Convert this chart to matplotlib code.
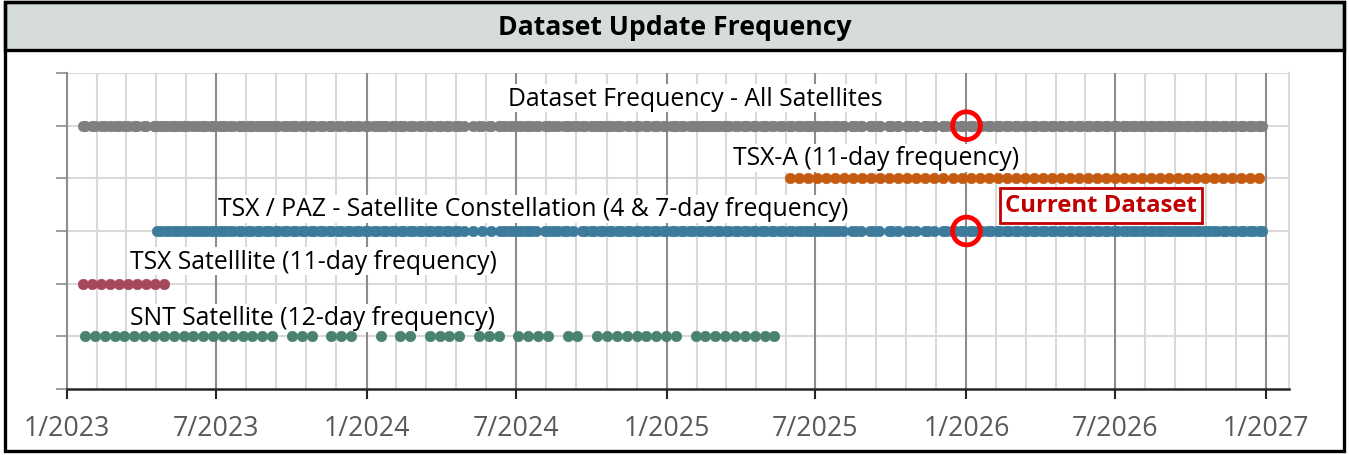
import numpy as np
import matplotlib
matplotlib.use("Agg")
from matplotlib import pyplot as plt
from matplotlib import dates as mdates
from matplotlib.patches import Rectangle

# acquisition dates, as day offsets from 1 Jan 2023
start = np.datetime64("2023-01-01")

snt_days = [
    22, 34, 46, 58, 70, 82, 94, 106, 118, 130, 142, 154, 166, 178, 190, 202, 214, 226,
    238, 250, 274, 286, 298, 322, 334, 346, 382, 406, 418, 442, 454, 466, 478, 502,
    514, 526, 550, 562, 574, 586, 610, 622, 646, 658, 670, 682, 694, 706, 718, 730,
    742, 766, 778, 790, 802, 814, 826, 838, 850, 862,
]

tsx_days = [19, 30, 41, 52, 63, 74, 85, 96, 107, 118]

tsx_paz_days = [
    110, 114, 121, 125, 132, 136, 143, 147, 154, 158, 165, 169, 176, 180, 187, 191,
    198, 202, 209, 213, 220, 224, 231, 235, 242, 246, 253, 257, 264, 268, 275, 279,
    286, 290, 297, 301, 308, 312, 319, 323, 330, 334, 341, 345, 352, 356, 363, 367,
    374, 378, 385, 389, 396, 400, 407, 411, 418, 422, 429, 433, 440, 444, 451, 455,
    462, 466, 473, 477, 484, 495, 506, 517, 528, 532, 539, 543, 550, 554, 561, 565,
    572, 583, 587, 594, 598, 605, 609, 616, 627, 631, 638, 642, 649, 653, 660, 664,
    671, 675, 682, 686, 693, 697, 704, 708, 715, 719, 726, 730, 737, 741, 748, 752,
    759, 763, 770, 774, 781, 785, 792, 796, 803, 807, 814, 818, 825, 829, 836, 840,
    847, 851, 858, 862, 869, 873, 880, 884, 891, 895, 902, 906, 913, 917, 924, 928,
    935, 939, 946, 957, 961, 968, 979, 983, 990, 1001, 1005, 1012, 1023, 1027, 1034,
    1045, 1049, 1056, 1067, 1071, 1078, 1082, 1089, 1093, 1100, 1104, 1111, 1115,
    1122, 1126, 1133, 1137, 1144, 1148, 1155, 1159, 1166, 1170, 1177, 1181, 1188, 1192,
    1199, 1203, 1210, 1214, 1221, 1225, 1232, 1236, 1243, 1247, 1254, 1258, 1265, 1269,
    1276, 1280, 1287, 1291, 1298, 1302, 1309, 1313, 1320, 1324, 1331, 1335, 1342, 1346,
    1353, 1357, 1364, 1368, 1375, 1379, 1386, 1390, 1397, 1401, 1408, 1412, 1419, 1423,
    1430, 1434, 1441, 1445, 1452, 1456,
]

tsx_a_days = [
    881, 892, 903, 914, 925, 936, 947, 958, 969, 980, 991, 1002, 1013, 1024, 1035,
    1046, 1057, 1068, 1079, 1090, 1101, 1112, 1123, 1134, 1145, 1156, 1167, 1178,
    1189, 1200, 1211, 1222, 1233, 1244, 1255, 1266, 1277, 1288, 1299, 1310, 1321,
    1332, 1343, 1354, 1365, 1376, 1387, 1398, 1409, 1420, 1431, 1442, 1453,
]

# the combined dataset is every date any satellite delivered
all_days = sorted(set(snt_days) | set(tsx_days) | set(tsx_paz_days) | set(tsx_a_days))

series_names = [
    "SNT Satellite (12-day frequency)",
    "TSX Satelllite (11-day frequency)",
    "TSX / PAZ - Satellite Constellation (4 & 7-day frequency)",
    "TSX-A (11-day frequency)",
    "Dataset Frequency - All Satellites",
]
series_days = [snt_days, tsx_days, tsx_paz_days, tsx_a_days, all_days]
series_rows = [1, 2, 3, 4, 5]
series_colors = ["#4A8270", "#A5485C", "#3C7B9C", "#C55A11", "#7F7F7F"]

# where each label sits (left edge date, row height)
label_pos = [
    ("2023-03-19", 1.35),
    ("2023-03-19", 2.43),
    ("2023-07-04", 3.42),
    ("2025-03-22", 4.39),
    ("2024-06-21", 5.52),
]

current_date = "2026-01-01"
current_rows = [5, 3]

tick_dates = ["2023-01-01", "2023-07-01", "2024-01-01", "2024-07-01", "2025-01-01",
              "2025-07-01", "2026-01-01", "2026-07-01", "2027-01-01"]
tick_labels = ["1/2023", "7/2023", "1/2024", "7/2024", "1/2025",
               "7/2025", "1/2026", "7/2026", "1/2027"]

plt.rcParams["font.family"] = ["Open Sans", "DejaVu Sans"]

W, H = 1349, 456
fig = plt.figure(figsize=(W / 100, H / 100), dpi=100)
fig.patch.set_facecolor("white")

# outer frame and grey title band
fig.add_artist(Rectangle((5 / W, 1 - 51 / H), 1339 / W, 48 / H, transform=fig.transFigure,
                         facecolor="#D6DCD9", edgecolor="black", linewidth=2.4, zorder=0))
fig.add_artist(Rectangle((5 / W, 1 - 452 / H), 1339 / W, 449 / H, transform=fig.transFigure,
                         facecolor="none", edgecolor="black", linewidth=2.4, zorder=5))
fig.text(0.5, 1 - 28 / H, "Dataset Update Frequency", ha="center", va="center",
         fontsize=19.2, fontweight="bold", color="black")

ax = fig.add_axes([67 / W, 66 / H, (1289 - 67) / W, (390 - 74) / H])

x_left = mdates.date2num(start)
x_right = mdates.date2num(start + np.timedelta64(1489, "D"))
ax.set_xlim(x_left, x_right)
ax.set_ylim(0, 6)

majors = [mdates.date2num(np.datetime64(d)) for d in tick_dates]
minors = []
for a, b in zip(majors[:-1], majors[1:]):
    for k in range(1, 5):
        minors.append(a + (b - a) * k / 5)

# grid: light minor verticals, darker half-year lines, light rows
for m in minors:
    ax.axvline(m, color="#D9D9D9", lw=1.5, zorder=0)
for m in majors[1:]:
    ax.axvline(m, color="#8C8C8C", lw=1.5, zorder=0.5)
for r in range(1, 7):
    ax.axhline(r, color="#D9D9D9", lw=1.5, zorder=0)

for days, row, color in zip(series_days, series_rows, series_colors):
    x = start + np.array(days).astype("timedelta64[D]")
    ax.scatter(x, np.full(len(days), row), s=58, color=color, edgecolors=color,
               linewidths=0.4, zorder=3)

for name, (d, yy) in zip(series_names, label_pos):
    ax.text(mdates.date2num(np.datetime64(d)), yy, name, ha="left", va="center",
            fontsize=17.8, color="black", zorder=2,
            bbox=dict(facecolor="white", edgecolor="none", pad=1))

# circle the latest dataset
cx = mdates.date2num(np.datetime64(current_date))
ax.scatter([cx] * len(current_rows), current_rows, s=400, facecolors="none",
           edgecolors="#FF0000", linewidths=3.4, zorder=5)
ax.text(mdates.date2num(np.datetime64("2026-06-14")), 3.49, "Current Dataset",
        ha="center", va="center", fontsize=17.2, fontweight="bold", color="#C00000", zorder=5,
        bbox=dict(facecolor="white", edgecolor="#C00000", linewidth=2, pad=4))

ax.set_xticks(majors)
ax.set_xticklabels(tick_labels)
ax.set_yticks(range(0, 7))
ax.set_yticklabels([])
ax.tick_params(axis="x", direction="out", length=7, width=1.5, color="#262626",
               labelsize=19.3, labelcolor="#595959", pad=11)
ax.tick_params(axis="y", direction="out", length=8, width=1.2, color="#8C8C8C")

ax.spines["top"].set_visible(False)
ax.spines["right"].set_color("#D9D9D9")
ax.spines["right"].set_linewidth(1.5)
ax.spines["left"].set_color("#8C8C8C")
ax.spines["left"].set_linewidth(1.5)
ax.spines["bottom"].set_color("#262626")
ax.spines["bottom"].set_linewidth(1.8)
ax.set_facecolor("white")

plt.savefig("out.png", dpi=100)
